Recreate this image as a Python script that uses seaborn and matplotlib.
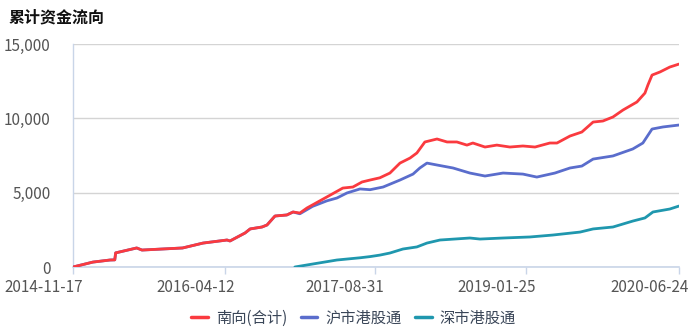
import matplotlib
matplotlib.use("Agg")
import matplotlib.pyplot as plt
from matplotlib.transforms import ScaledTranslation
from matplotlib.lines import Line2D
import seaborn as sns
import pandas as pd

# ---- data ----
south_dates = ["2014-11-17", "2015-01-23", "2015-03-22", "2015-04-07", "2015-04-10", "2015-06-20",
               "2015-07-08", "2015-11-22", "2016-01-30", "2016-04-20", "2016-04-30", "2016-06-20",
               "2016-07-07", "2016-08-16", "2016-09-02", "2016-09-29", "2016-11-08", "2016-11-29",
               "2016-12-22", "2017-01-15", "2017-03-23", "2017-05-16", "2017-06-19", "2017-07-20",
               "2017-08-16", "2017-09-18", "2017-10-22", "2017-11-25", "2017-12-29", "2018-01-21",
               "2018-02-17", "2018-03-30", "2018-05-03", "2018-06-05", "2018-07-09", "2018-07-29",
               "2018-09-08", "2018-10-18", "2018-12-01", "2019-01-14", "2019-02-24", "2019-04-15",
               "2019-05-09", "2019-06-22", "2019-08-01", "2019-09-08", "2019-10-11", "2019-11-14",
               "2019-12-18", "2020-02-03", "2020-03-01", "2020-03-11", "2020-03-25", "2020-04-21",
               "2020-05-24", "2020-06-24"]
south_values = [0, 330, 470, 480, 950, 1280,
                1140, 1280, 1610, 1815, 1750, 2290,
                2560, 2690, 2825, 3430, 3500, 3700,
                3630, 3970, 4710, 5310, 5380, 5720,
                5850, 6000, 6320, 6990, 7330, 7670,
                8410, 8610, 8410, 8410, 8200, 8340,
                8070, 8200, 8070, 8140, 8070, 8340,
                8340, 8810, 9080, 9750, 9820, 10090,
                10560, 11100, 11700, 12240, 12910, 13120,
                13450, 13650]

sh_dates = ["2014-11-17", "2015-01-23", "2015-03-22", "2015-04-07", "2015-04-10", "2015-06-20",
            "2015-07-08", "2015-11-22", "2016-01-30", "2016-04-20", "2016-04-30", "2016-06-20",
            "2016-07-07", "2016-08-16", "2016-09-02", "2016-09-29", "2016-11-08", "2016-11-29",
            "2016-12-22", "2017-02-03", "2017-03-23", "2017-04-26", "2017-05-30", "2017-07-13",
            "2017-08-16", "2017-09-29", "2017-11-25", "2018-01-08", "2018-01-31", "2018-02-24",
            "2018-03-30", "2018-05-23", "2018-07-19", "2018-09-08", "2018-11-08", "2019-01-14",
            "2019-03-02", "2019-05-02", "2019-06-22", "2019-08-01", "2019-09-08", "2019-11-14",
            "2020-01-20", "2020-02-23", "2020-03-25", "2020-05-01", "2020-06-24"]
sh_values = [0, 330, 470, 480, 950, 1280,
             1140, 1280, 1610, 1815, 1750, 2290,
             2560, 2690, 2825, 3430, 3500, 3700,
             3580, 4080, 4450, 4640, 4980, 5250,
             5200, 5380, 5850, 6250, 6660, 6990,
             6860, 6660, 6320, 6120, 6320, 6250,
             6050, 6320, 6660, 6790, 7260, 7470,
             7940, 8340, 9280, 9420, 9550]

sz_dates = ["2016-12-05", "2017-02-03", "2017-04-26", "2017-07-13", "2017-08-16", "2017-09-18",
            "2017-10-22", "2017-12-05", "2018-01-21", "2018-02-24", "2018-04-09", "2018-07-19",
            "2018-08-22", "2018-11-08", "2019-02-07", "2019-04-25", "2019-07-26", "2019-09-08",
            "2019-11-14", "2020-01-20", "2020-03-01", "2020-03-28", "2020-05-24", "2020-06-24"]
sz_values = [0, 200, 470, 620, 700, 800,
             940, 1210, 1350, 1610, 1815, 1950,
             1880, 1950, 2020, 2150, 2350, 2560,
             2690, 3090, 3300, 3700, 3900, 4100]

series_names = ["南向(合计)", "沪市港股通", "深市港股通"]
series_colors = ["#fa3a3f", "#5a6dcc", "#1f97ae"]
tick_dates = ["2014-11-17", "2016-04-12", "2017-08-31", "2019-01-25", "2020-06-24"]
y_ticks = [0, 5000, 10000, 15000]
title = "累计资金流向"

# ---- plot ----
sns.set_theme(style="white")
plt.rcParams["font.family"] = ["Noto Sans CJK SC", "DejaVu Sans"]

fig = plt.figure(figsize=(6.93, 3.32), dpi=100)
ax = fig.add_axes([73 / 693, 1 - 267 / 332, (679 - 73) / 693, (267 - 44) / 332])

frames = [
    pd.DataFrame({"date": pd.to_datetime(south_dates), "value": south_values, "series": series_names[0]}),
    pd.DataFrame({"date": pd.to_datetime(sh_dates), "value": sh_values, "series": series_names[1]}),
    pd.DataFrame({"date": pd.to_datetime(sz_dates), "value": sz_values, "series": series_names[2]}),
]
zorders = [5, 3, 4]
for df, c, z in zip(frames, series_colors, zorders):
    sns.lineplot(data=df, x="date", y="value", color=c, linewidth=2.0, ax=ax,
                 legend=False, zorder=z)

ax.set_xlim(pd.Timestamp(tick_dates[0]), pd.Timestamp(tick_dates[-1]))
ax.set_ylim(0, 15000)
ax.set_yticks(y_ticks)
ax.set_yticklabels([f"{v:,}" for v in y_ticks])
ax.set_xticks(pd.to_datetime(tick_dates))
ax.set_xticklabels(tick_dates)
ax.set_xlabel("")
ax.set_ylabel("")

ax.grid(axis="y", color="#d4d4d4", linewidth=1.0)
ax.grid(axis="x", visible=False)
for s in ["top", "right"]:
    ax.spines[s].set_visible(False)
spine_c = "#c9d5e8"
ax.spines["left"].set_color(spine_c)
ax.spines["bottom"].set_color(spine_c)
ax.spines["left"].set_linewidth(1.0)
ax.spines["bottom"].set_linewidth(1.2)

ax.tick_params(axis="x", bottom=True, length=5, width=1.0, color=spine_c,
               labelsize=11, labelcolor="#555555", pad=4)
ax.tick_params(axis="y", left=False, labelsize=11, labelcolor="#555555", pad=10)

offset = ScaledTranslation(10 / 100, 0, fig.dpi_scale_trans)
for lab in ax.get_xticklabels():
    lab.set_horizontalalignment("right")
    lab.set_transform(lab.get_transform() + offset)

fig.text(9 / 693, 1 - 17 / 332, title, fontsize=11.5, fontweight="bold",
         color="#111111", ha="left", va="center")

handles = [Line2D([0], [0], color=c, linewidth=2.5) for c in series_colors]
fig.legend(handles, series_names, loc="center", bbox_to_anchor=(0.51, 1 - 318 / 332),
           ncol=3, frameon=False, fontsize=11, handlelength=1.1, handletextpad=0.5,
           columnspacing=0.9, labelcolor="#3a4658")

fig.savefig("out.png", dpi=100)
